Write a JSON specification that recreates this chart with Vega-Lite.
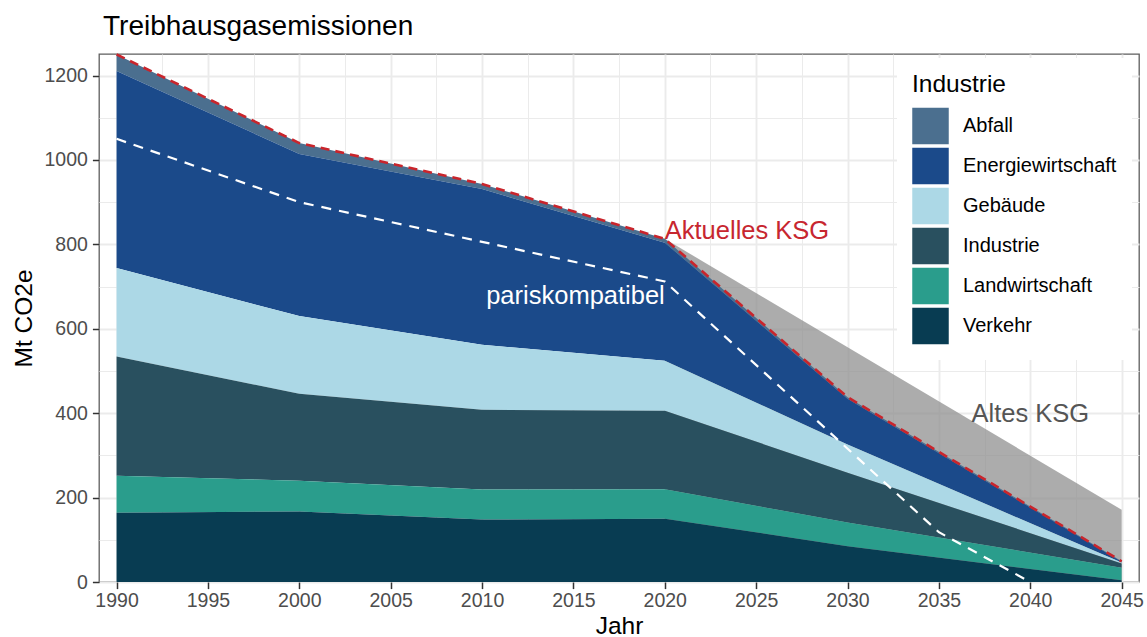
{
  "$schema": "https://vega.github.io/schema/vega-lite/v6.json",
  "width": 1040,
  "height": 528,
  "autosize": {"type": "none"},
  "padding": {"left": 99, "top": 54, "right": 8, "bottom": 55},
  "background": "white",
  "title": {"text": "Treibhausgasemissionen", "anchor": "start", "frame": "group", "font": "Liberation Sans", "fontSize": 28, "fontWeight": "normal", "color": "black", "baseline": "alphabetic", "offset": 19, "dx": 4, "dy": 33},
  "config": {
    "font": "Liberation Sans",
    "view": {"stroke": "#5e5e5e", "strokeWidth": 1.3}
  },
  "datasets": {
    "sektoren": [
      {"Jahr": 1990, "Sektor": "Abfall", "Wert": 39},
      {"Jahr": 1990, "Sektor": "Energiewirtschaft", "Wert": 467},
      {"Jahr": 1990, "Sektor": "Gebäude", "Wert": 210},
      {"Jahr": 1990, "Sektor": "Industrie", "Wert": 282},
      {"Jahr": 1990, "Sektor": "Landwirtschaft", "Wert": 88},
      {"Jahr": 1990, "Sektor": "Verkehr", "Wert": 164},
      {"Jahr": 2000, "Sektor": "Abfall", "Wert": 26},
      {"Jahr": 2000, "Sektor": "Energiewirtschaft", "Wert": 384},
      {"Jahr": 2000, "Sektor": "Gebäude", "Wert": 184},
      {"Jahr": 2000, "Sektor": "Industrie", "Wert": 206},
      {"Jahr": 2000, "Sektor": "Landwirtschaft", "Wert": 73},
      {"Jahr": 2000, "Sektor": "Verkehr", "Wert": 167},
      {"Jahr": 2010, "Sektor": "Abfall", "Wert": 12},
      {"Jahr": 2010, "Sektor": "Energiewirtschaft", "Wert": 369},
      {"Jahr": 2010, "Sektor": "Gebäude", "Wert": 154},
      {"Jahr": 2010, "Sektor": "Industrie", "Wert": 189},
      {"Jahr": 2010, "Sektor": "Landwirtschaft", "Wert": 71},
      {"Jahr": 2010, "Sektor": "Verkehr", "Wert": 148},
      {"Jahr": 2020, "Sektor": "Abfall", "Wert": 9},
      {"Jahr": 2020, "Sektor": "Energiewirtschaft", "Wert": 280},
      {"Jahr": 2020, "Sektor": "Gebäude", "Wert": 118},
      {"Jahr": 2020, "Sektor": "Industrie", "Wert": 186},
      {"Jahr": 2020, "Sektor": "Landwirtschaft", "Wert": 70},
      {"Jahr": 2020, "Sektor": "Verkehr", "Wert": 150},
      {"Jahr": 2030, "Sektor": "Abfall", "Wert": 4},
      {"Jahr": 2030, "Sektor": "Energiewirtschaft", "Wert": 108},
      {"Jahr": 2030, "Sektor": "Gebäude", "Wert": 67},
      {"Jahr": 2030, "Sektor": "Industrie", "Wert": 118},
      {"Jahr": 2030, "Sektor": "Landwirtschaft", "Wert": 56},
      {"Jahr": 2030, "Sektor": "Verkehr", "Wert": 85},
      {"Jahr": 2045, "Sektor": "Abfall", "Wert": 1},
      {"Jahr": 2045, "Sektor": "Energiewirtschaft", "Wert": 2},
      {"Jahr": 2045, "Sektor": "Gebäude", "Wert": 2},
      {"Jahr": 2045, "Sektor": "Industrie", "Wert": 10},
      {"Jahr": 2045, "Sektor": "Landwirtschaft", "Wert": 30},
      {"Jahr": 2045, "Sektor": "Verkehr", "Wert": 4}
    ],
    "altksg": [
      {"Jahr": 2020, "Wert": 813},
      {"Jahr": 2045, "Wert": 171}
    ],
    "paris": [
      {"Jahr": 1990, "Wert": 1050},
      {"Jahr": 2000, "Wert": 900},
      {"Jahr": 2020, "Wert": 712},
      {"Jahr": 2035, "Wert": 118},
      {"Jahr": 2040, "Wert": 0}
    ],
    "label_aktuell": [{"Jahr": 2020, "Wert": 813, "Text": "Aktuelles KSG"}],
    "label_paris": [{"Jahr": 2020, "Wert": 659, "Text": "pariskompatibel"}],
    "label_alt": [{"Jahr": 2040, "Wert": 379, "Text": "Altes KSG"}]
  },
  "layer": [
    {
      "data": {"name": "altksg"},
      "mark": {"type": "area", "color": "#8c8c8c", "opacity": 0.72},
      "encoding": {
        "x": {"field": "Jahr", "type": "quantitative", "scale": {"domain": [1989.04, 2045.95], "nice": false, "zero": false},
          "axis": {"orient": "bottom", "values": [1992.5, 1997.5, 2002.5, 2007.5, 2012.5, 2017.5, 2022.5, 2027.5, 2032.5, 2037.5, 2042.5], "grid": true, "gridColor": "#ebebeb", "gridWidth": 1, "labels": false, "ticks": false, "domain": false, "title": null}},
        "y": {"field": "Wert", "type": "quantitative", "scale": {"domain": [0, 1251], "nice": false},
          "axis": {"orient": "left", "values": [100, 300, 500, 700, 900, 1100], "grid": true, "gridColor": "#ebebeb", "gridWidth": 1, "labels": false, "ticks": false, "domain": false, "title": null}}
      }
    },
    {
      "data": {"name": "sektoren"},
      "mark": {"type": "area", "opacity": 1},
      "encoding": {
        "x": {"field": "Jahr", "type": "quantitative", "scale": {"domain": [1989.04, 2045.95], "nice": false, "zero": false},
          "axis": {"orient": "bottom", "values": [1990, 1995, 2000, 2005, 2010, 2015, 2020, 2025, 2030, 2035, 2040, 2045], "format": "d", "grid": true, "gridColor": "#ebebeb", "gridWidth": 1.9, "domain": false, "ticks": true, "tickColor": "#333333", "tickWidth": 1.5, "tickSize": 6.6, "labelFont": "Liberation Sans", "labelFontSize": 19.5, "labelColor": "#4d4d4d", "labelPadding": 3, "title": "Jahr", "titleFont": "Liberation Sans", "titleFontSize": 24.5, "titleFontWeight": "normal", "titleColor": "black", "titlePadding": 4}},
        "y": {"field": "Wert", "type": "quantitative", "stack": "zero", "scale": {"domain": [0, 1251], "nice": false},
          "axis": {"orient": "left", "values": [0, 200, 400, 600, 800, 1000, 1200], "format": "d", "grid": true, "gridColor": "#ebebeb", "gridWidth": 1.9, "domain": false, "ticks": true, "tickColor": "#333333", "tickWidth": 1.5, "tickSize": 6.6, "labelFont": "Liberation Sans", "labelFontSize": 19.5, "labelColor": "#4d4d4d", "labelPadding": 5, "title": "Mt CO2e", "titleFont": "Liberation Sans", "titleFontSize": 24.5, "titleFontWeight": "normal", "titleColor": "black", "titlePadding": 8}},
        "color": {"field": "Sektor", "type": "nominal",
          "scale": {"domain": ["Abfall", "Energiewirtschaft", "Gebäude", "Industrie", "Landwirtschaft", "Verkehr"], "range": ["#4b6f8f", "#1b4a8a", "#acd8e6", "#29505f", "#2a9d8c", "#083c52"]},
          "legend": {"orient": "none", "legendX": 798, "legendY": 4, "title": "Industrie", "titleFont": "Liberation Sans", "titleFontSize": 24.5, "titleFontWeight": "normal", "titleColor": "black", "titlePadding": 10, "labelFont": "Liberation Sans", "labelFontSize": 20, "labelColor": "black", "symbolType": "square", "symbolSize": 1332, "symbolStrokeWidth": 0, "symbolOpacity": 1, "rowPadding": 3, "labelOffset": 14, "padding": 15, "fillColor": "white", "offset": 0}},
        "order": {"field": "Sektor", "sort": "descending"}
      }
    },
    {
      "data": {"name": "sektoren"},
      "transform": [{"aggregate": [{"op": "sum", "field": "Wert", "as": "Gesamt"}], "groupby": ["Jahr"]}],
      "mark": {"type": "line", "color": "#c9252c", "strokeWidth": 2.6, "strokeDash": [9, 6]},
      "encoding": {
        "x": {"field": "Jahr", "type": "quantitative", "axis": null},
        "y": {"field": "Gesamt", "type": "quantitative", "axis": null}
      }
    },
    {
      "data": {"name": "paris"},
      "mark": {"type": "line", "color": "white", "strokeWidth": 2.2, "strokeDash": [10, 8]},
      "encoding": {
        "x": {"field": "Jahr", "type": "quantitative", "axis": null},
        "y": {"field": "Wert", "type": "quantitative", "axis": null}
      }
    },
    {
      "data": {"name": "label_aktuell"},
      "mark": {"type": "text", "align": "left", "baseline": "alphabetic", "font": "Liberation Sans", "fontSize": 25.5, "color": "#c7262f"},
      "encoding": {
        "x": {"field": "Jahr", "type": "quantitative", "axis": null},
        "y": {"field": "Wert", "type": "quantitative", "axis": null},
        "text": {"field": "Text"}
      }
    },
    {
      "data": {"name": "label_paris"},
      "mark": {"type": "text", "align": "right", "baseline": "alphabetic", "font": "Liberation Sans", "fontSize": 25.5, "color": "white"},
      "encoding": {
        "x": {"field": "Jahr", "type": "quantitative", "axis": null},
        "y": {"field": "Wert", "type": "quantitative", "axis": null},
        "text": {"field": "Text"}
      }
    },
    {
      "data": {"name": "label_alt"},
      "mark": {"type": "text", "align": "center", "baseline": "alphabetic", "font": "Liberation Sans", "fontSize": 25.5, "color": "#555555"},
      "encoding": {
        "x": {"field": "Jahr", "type": "quantitative", "axis": null},
        "y": {"field": "Wert", "type": "quantitative", "axis": null},
        "text": {"field": "Text"}
      }
    }
  ],
  "resolve": {"axis": {"x": "independent", "y": "independent"}}
}
